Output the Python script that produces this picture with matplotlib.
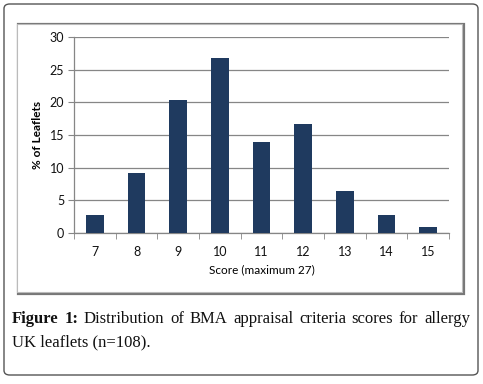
import matplotlib
matplotlib.use("Agg")
import matplotlib.pyplot as plt
from matplotlib.patches import FancyBboxPatch, Rectangle

scores = ["7", "8", "9", "10", "11", "12", "13", "14", "15"]
percent = [2.78, 9.26, 20.37, 26.85, 13.89, 16.67, 6.48, 2.78, 0.93]
y_ticks = [0, 5, 10, 15, 20, 25, 30]

W, H = 483, 384
fig = plt.figure(figsize=(W / 100, H / 100), dpi=100)


def fx(px):
    return px / W


def fy(py):
    return 1 - py / H


# outer rounded frame
fig.patches.append(FancyBboxPatch((fx(4), fy(375)), fx(474), 371 / H,
                                  boxstyle="round,pad=0,rounding_size=0.012",
                                  transform=fig.transFigure, facecolor="white",
                                  edgecolor="#555555", lw=1.0, zorder=-3))
# inner chart frame with shadow
fig.patches.append(Rectangle((fx(18), fy(294)), fx(446), 270 / H,
                             transform=fig.transFigure, facecolor="none",
                             edgecolor="#777777", lw=1.6, zorder=-2))
fig.patches.append(Rectangle((fx(17), fy(292)), fx(445), 268 / H,
                             transform=fig.transFigure, facecolor="white",
                             edgecolor="#bbbbbb", lw=0.8, zorder=-1))

ax = fig.add_axes([fx(74), fy(233), fx(375), 196 / H])
ax.patch.set_alpha(0)
x = list(range(len(scores)))
ax.bar(x, percent, width=0.42, color="#1f3a5f", zorder=3)
ax.set_xlim(-0.5, len(scores) - 0.5)
ax.set_ylim(0, 30)
ax.set_yticks(y_ticks)
ax.yaxis.grid(True, color="#868686", lw=0.9)
ax.set_axisbelow(True)

ax.set_xticks(x)
ax.set_xticklabels(scores)
ax.set_xticks([i - 0.5 for i in range(len(scores) + 1)], minor=True)
ax.tick_params(axis="x", which="major", length=0, pad=9)
ax.tick_params(axis="x", which="minor", length=4, color="#868686")
ax.tick_params(axis="y", length=4, color="#868686", pad=3)
for lab in ax.get_xticklabels() + ax.get_yticklabels():
    lab.set_fontfamily("Lato")
    lab.set_fontsize(9)
    lab.set_color("#111111")

for s in ["top", "right"]:
    ax.spines[s].set_visible(False)
for s in ["left", "bottom"]:
    ax.spines[s].set_color("#868686")
    ax.spines[s].set_linewidth(0.9)

ax.set_xlabel("Score (maximum 27)", fontfamily="Lato", fontsize=8.5, labelpad=5)
ax.set_ylabel("% of Leaflets", fontfamily="Lato", fontsize=8.5, fontweight="bold",
              labelpad=5)

# caption, first line justified between x=12 and x=470
cap = dict(fontfamily="Liberation Serif", fontsize=12, color="#111111",
           transform=fig.transFigure, va="baseline")
words = [("Figure", "bold"), ("1:", "bold")] + [
    (w, "normal") for w in
    "Distribution of BMA appraisal criteria scores for allergy".split()]
texts = [fig.text(0, fy(323), w, fontweight=wt, **cap) for w, wt in words]
fig.canvas.draw()
widths = [t.get_window_extent().width for t in texts]
gap = (470 - 12 - sum(widths)) / (len(texts) - 1)
pos = 12
for t, w in zip(texts, widths):
    t.set_x(fx(pos))
    pos += w + gap
fig.text(fx(12), fy(346), "UK leaflets (n=108).", **cap)

fig.savefig("out.png", dpi=100)
